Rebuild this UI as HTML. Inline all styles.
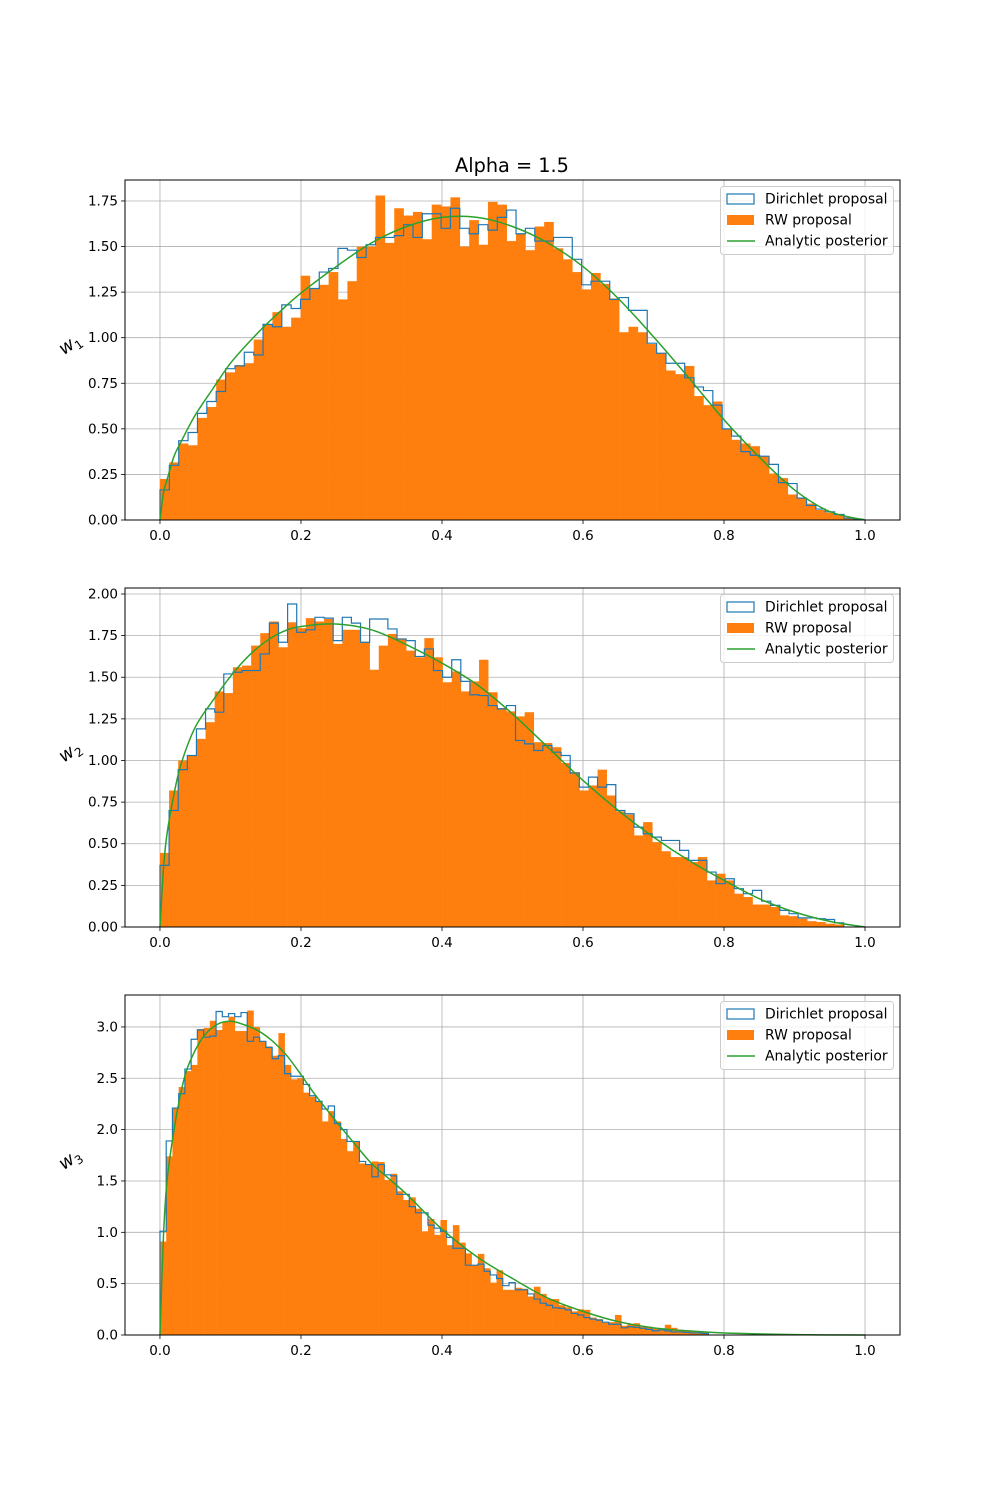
<!DOCTYPE html>
<html><head><meta charset="utf-8"><title>Alpha = 1.5</title>
<style>
html,body{margin:0;padding:0;background:#fff;}
svg{display:block;font-family:"DejaVu Sans","Liberation Sans",sans-serif;}
</style></head>
<body>
<svg id="fig" width="1000" height="1500" viewBox="0 0 1000 1500" xmlns="http://www.w3.org/2000/svg">
<rect width="1000" height="1500" fill="#fff"/>
<text x="512" y="172" font-size="19.3" text-anchor="middle" fill="#000">Alpha = 1.5</text>
</svg>
<script>
// ---------- data ----------
const xTicks = [0.0, 0.2, 0.4, 0.6, 0.8, 1.0];
const xTickLabels = ["0.0", "0.2", "0.4", "0.6", "0.8", "1.0"];

const p1YTicks = [0, 0.25, 0.5, 0.75, 1.0, 1.25, 1.5, 1.75];
const p1YTickLabels = ["0.00", "0.25", "0.50", "0.75", "1.00", "1.25", "1.50", "1.75"];
const p1RW = [0.225,0.316,0.42,0.41,0.56,0.62,0.77,0.81,0.85,0.86,0.99,1.075,1.14,1.06,1.11,1.34,1.27,1.29,1.36,1.21,1.31,1.50,1.50,1.78,1.52,1.71,1.67,1.69,1.54,1.73,1.72,1.77,1.50,1.645,1.51,1.745,1.73,1.53,1.57,1.48,1.61,1.635,1.49,1.43,1.36,1.265,1.355,1.295,1.215,1.03,1.06,1.03,0.965,0.915,0.82,0.80,0.845,0.68,0.63,0.65,0.50,0.44,0.42,0.405,0.35,0.255,0.23,0.14,0.12,0.09,0.055,0.04,0.027,0.015,0.007];
const p1Dir = [0.165,0.30,0.435,0.48,0.585,0.65,0.705,0.83,0.845,0.92,0.905,1.073,1.06,1.18,1.16,1.21,1.27,1.36,1.38,1.49,1.48,1.44,1.51,1.55,1.55,1.56,1.62,1.55,1.68,1.68,1.60,1.71,1.60,1.57,1.62,1.59,1.66,1.70,1.57,1.60,1.53,1.53,1.55,1.55,1.43,1.29,1.31,1.31,1.21,1.22,1.15,1.15,0.97,0.915,0.86,0.86,0.78,0.73,0.71,0.63,0.50,0.46,0.375,0.355,0.35,0.305,0.205,0.20,0.12,0.08,0.06,0.045,0.03,0.01,0.005];
const p1CurveX = [0,0.005,0.01,0.02,0.03,0.05,0.075,0.1,0.125,0.15,0.175,0.2,0.25,0.3,0.35,0.4,0.45,0.5,0.55,0.6,0.65,0.7,0.75,0.8,0.85,0.9,0.95,1.0];
const p1CurveY = [0,0.15,0.22,0.35,0.43,0.575,0.72,0.86,0.97,1.07,1.16,1.245,1.39,1.52,1.61,1.66,1.66,1.61,1.52,1.39,1.215,1.005,0.78,0.55,0.345,0.165,0.046,0];

const p2YTicks = [0, 0.25, 0.5, 0.75, 1.0, 1.25, 1.5, 1.75, 2.0];
const p2YTickLabels = ["0.00", "0.25", "0.50", "0.75", "1.00", "1.25", "1.50", "1.75", "2.00"];
const p2RW = [0.445,0.82,1.0,1.03,1.13,1.23,1.415,1.405,1.56,1.57,1.69,1.765,1.835,1.68,1.83,1.795,1.855,1.835,1.85,1.70,1.785,1.785,1.71,1.545,1.69,1.76,1.73,1.66,1.62,1.735,1.62,1.47,1.535,1.415,1.475,1.605,1.41,1.315,1.295,1.265,1.29,1.11,1.105,1.08,0.985,0.93,0.82,0.85,0.945,0.79,0.695,0.675,0.55,0.63,0.51,0.455,0.42,0.42,0.39,0.42,0.28,0.32,0.28,0.20,0.18,0.135,0.135,0.12,0.07,0.065,0.05,0.035,0.03,0.02,0.015];
const p2Dir = [0.37,0.70,0.945,1.03,1.19,1.31,1.29,1.52,1.53,1.54,1.54,1.64,1.825,1.71,1.94,1.77,1.785,1.86,1.855,1.72,1.86,1.825,1.71,1.85,1.85,1.79,1.73,1.72,1.625,1.67,1.54,1.50,1.605,1.475,1.395,1.39,1.33,1.31,1.33,1.12,1.10,1.06,1.09,1.05,1.03,0.925,0.84,0.90,0.84,0.855,0.70,0.68,0.60,0.56,0.54,0.52,0.52,0.46,0.40,0.40,0.33,0.26,0.29,0.23,0.20,0.22,0.155,0.13,0.10,0.08,0.055,0.055,0.05,0.045,0.025];
const p2CurveX = [0,0.005,0.01,0.02,0.03,0.05,0.075,0.1,0.125,0.15,0.175,0.2,0.25,0.3,0.35,0.4,0.45,0.5,0.55,0.6,0.65,0.7,0.75,0.8,0.85,0.9,0.95,1.0];
const p2CurveY = [0,0.35,0.56,0.80,0.98,1.20,1.36,1.505,1.625,1.715,1.775,1.805,1.82,1.785,1.695,1.585,1.455,1.28,1.08,0.88,0.70,0.54,0.40,0.28,0.17,0.09,0.034,0];

const p3YTicks = [0, 0.5, 1.0, 1.5, 2.0, 2.5, 3.0];
const p3YTickLabels = ["0.0", "0.5", "1.0", "1.5", "2.0", "2.5", "3.0"];
const p3RW = [0.91,1.74,2.21,2.415,2.57,2.63,2.98,2.99,3.06,2.97,3.05,3.10,2.96,2.96,3.16,3.0,2.86,2.81,2.72,2.94,2.63,2.49,2.50,2.36,2.32,2.275,2.08,2.18,2.08,1.91,1.79,1.885,1.67,1.66,1.69,1.685,1.51,1.57,1.40,1.315,1.34,1.23,1.01,1.13,0.975,1.12,0.875,1.07,0.90,0.795,0.68,0.79,0.65,0.51,0.63,0.44,0.44,0.46,0.45,0.375,0.47,0.40,0.35,0.35,0.29,0.27,0.23,0.25,0.245,0.17,0.155,0.12,0.125,0.195,0.09,0.105,0.115,0.08,0.08,0.07,0.065,0.10,0.07,0.05,0.045,0.035,0.035,0.025];
const p3Dir = [1.01,1.89,2.21,2.35,2.59,2.88,2.97,2.90,2.91,3.15,3.10,3.13,3.10,3.14,2.86,2.90,2.86,2.80,2.69,2.72,2.545,2.52,2.52,2.44,2.33,2.275,2.20,2.23,2.06,2.00,1.885,1.885,1.69,1.66,1.54,1.66,1.56,1.55,1.37,1.37,1.25,1.19,1.19,1.07,1.04,1.01,0.95,0.845,0.845,0.68,0.68,0.69,0.62,0.585,0.55,0.48,0.51,0.44,0.44,0.40,0.35,0.31,0.29,0.265,0.26,0.245,0.21,0.195,0.17,0.155,0.145,0.125,0.105,0.105,0.07,0.08,0.075,0.065,0.055,0.04,0.05,0.04,0.03,0.03,0.025,0.02,0.02,0.015];
const p3CurveX = [0,0.005,0.01,0.02,0.03,0.04,0.06,0.08,0.1,0.12,0.14,0.16,0.18,0.2,0.22,0.25,0.28,0.3,0.32,0.35,0.4,0.45,0.5,0.55,0.6,0.65,0.7,0.75,0.8,0.9,1.0];
const p3CurveY = [0,0.97,1.5,2.0,2.37,2.62,2.89,3.02,3.055,3.02,2.96,2.86,2.72,2.535,2.34,2.08,1.83,1.67,1.55,1.37,1.03,0.76,0.55,0.36,0.23,0.13,0.07,0.04,0.02,0.004,0];

// ---------- drawing ----------
const NS = "http://www.w3.org/2000/svg";
const svg = document.getElementById("fig");
const AX_L = 125, AX_R = 900, XMIN = -0.0496, XMAX = 1.0496;
function mk(tag, attrs, parent) {
  const e = document.createElementNS(NS, tag);
  for (const k in attrs) e.setAttribute(k, attrs[k]);
  (parent || svg).appendChild(e);
  return e;
}
function xScale(v) { return AX_L + (v - XMIN) / (XMAX - XMIN) * (AX_R - AX_L); }

const panels = [
  { id: 1, top: 180, bottom: 520, ymax: 1.865, yt: p1YTicks, ytl: p1YTickLabels, rw: p1RW, rwW: 0.01329, dir: p1Dir, dirW: 0.01329, cx: p1CurveX, cy: p1CurveY },
  { id: 2, top: 588, bottom: 927, ymax: 2.036, yt: p2YTicks, ytl: p2YTickLabels, rw: p2RW, rwW: 0.01293, dir: p2Dir, dirW: 0.01293, cx: p2CurveX, cy: p2CurveY },
  { id: 3, top: 995, bottom: 1335, ymax: 3.311, yt: p3YTicks, ytl: p3YTickLabels, rw: p3RW, rwW: 0.00884, dir: p3Dir, dirW: 0.00884, cx: p3CurveX, cy: p3CurveY }
];

panels.forEach(p => {
  const g = mk("g", {});
  
  
  const yScale = v => p.bottom - v / p.ymax * (p.bottom - p.top);

  xTicks.forEach(t => {
    const l = mk("line", { x1: xScale(t), x2: xScale(t), y1: p.top, y2: p.bottom, stroke: "#b0b0b0", "stroke-width": 0.8 }, g);
    
    
  });
  p.yt.forEach(t => {
    const l = mk("line", { x1: AX_L, x2: AX_R, y1: yScale(t), y2: yScale(t), stroke: "#b0b0b0", "stroke-width": 0.8 }, g);
    
    
  });

  const rwG = mk("g", { fill: "#ff7f0e" }, g);
  
  
  p.rw.forEach((v, i) => {
    const x0 = xScale(i * p.rwW), x1 = xScale((i + 1) * p.rwW);
    const r = mk("rect", { x: x0, y: yScale(v), width: x1 - x0 + 0.3, height: p.bottom - yScale(v) }, rwG);
    
    
  });

  let d = "M" + xScale(0) + "," + yScale(0);
  p.dir.forEach((v, i) => {
    d += " L" + xScale(i * p.dirW) + "," + yScale(v) + " L" + xScale((i + 1) * p.dirW) + "," + yScale(v);
  });
  d += " L" + xScale(p.dir.length * p.dirW) + "," + yScale(0);
  const st = mk("path", { d: d, fill: "none", stroke: "#1f77b4", "stroke-width": 1.2 }, g);
  
  

  const pts = p.cx.map((x, i) => [xScale(x), yScale(p.cy[i])]);
  let cd = "M" + pts[0][0] + "," + pts[0][1];
  for (let i = 0; i < pts.length - 1; i++) {
    const p0 = pts[Math.max(0, i - 1)], p1 = pts[i], p2 = pts[i + 1], p3 = pts[Math.min(pts.length - 1, i + 2)];
    const c1 = [p1[0] + (p2[0] - p0[0]) / 6, p1[1] + (p2[1] - p0[1]) / 6];
    const c2 = [p2[0] - (p3[0] - p1[0]) / 6, p2[1] - (p3[1] - p1[1]) / 6];
    cd += " C" + c1[0] + "," + c1[1] + " " + c2[0] + "," + c2[1] + " " + p2[0] + "," + p2[1];
  }
  const cv = mk("path", { d: cd, fill: "none", stroke: "#2ca02c", "stroke-width": 1.5 }, g);
  
  

  const fr = mk("rect", { x: AX_L, y: p.top, width: AX_R - AX_L, height: p.bottom - p.top, fill: "none", stroke: "#000", "stroke-width": 1 }, g);
  
  

  xTicks.forEach((t, i) => {
    mk("line", { x1: xScale(t), x2: xScale(t), y1: p.bottom, y2: p.bottom + 4, stroke: "#000", "stroke-width": 0.8 }, g);
    const tx = mk("text", { x: xScale(t), y: p.bottom + 20, "font-size": 13.5, "text-anchor": "middle", fill: "#000" }, g);
    tx.textContent = xTickLabels[i];
    
    
  });
  p.yt.forEach((t, i) => {
    mk("line", { x1: AX_L - 4, x2: AX_L, y1: yScale(t), y2: yScale(t), stroke: "#000", "stroke-width": 0.8 }, g);
    const tx = mk("text", { x: AX_L - 7, y: yScale(t) + 4.5, "font-size": 13.5, "text-anchor": "end", fill: "#000" }, g);
    tx.textContent = p.ytl[i];
    
    
  });

  const ly = (p.top + p.bottom) / 2 - 6;
  const yl = mk("text", { x: 0, y: 0, "font-size": 18, "font-style": "italic", fill: "#000", "text-anchor": "middle", transform: "translate(73," + (ly + 5) + ") rotate(-35)" }, g);
  
  
  const t1 = mk("tspan", {}, yl); t1.textContent = "w";
  const t2 = mk("tspan", { "font-size": 12, "font-style": "normal", dy: 4 }, yl); t2.textContent = String(p.id);

  const lg = mk("g", {}, g);
  
  
  const lt = p.top + 6;
  mk("rect", { x: 720.5, y: lt + 0.5, width: 173, height: 68, rx: 3, fill: "#fff", "fill-opacity": 0.8, stroke: "#cccccc" }, lg);
  const e1 = mk("rect", { x: 727, y: lt + 8, width: 27, height: 10, fill: "none", stroke: "#1f77b4", "stroke-width": 1.2 }, lg);
  
  
  const e2 = mk("rect", { x: 727, y: lt + 29, width: 27, height: 10, fill: "#ff7f0e" }, lg);
  
  
  const e3 = mk("line", { x1: 727, x2: 755, y1: lt + 55, y2: lt + 55, stroke: "#2ca02c", "stroke-width": 1.5 }, lg);
  
  
  const labels = ["Dirichlet proposal", "RW proposal", "Analytic posterior"];
  labels.forEach((s, i) => {
    const tx = mk("text", { x: 765, y: lt + 17.5 + i * 21, "font-size": 13.9, fill: "#000" }, lg);
    tx.textContent = s;
    
    
  });
});
</script>
</body></html>
